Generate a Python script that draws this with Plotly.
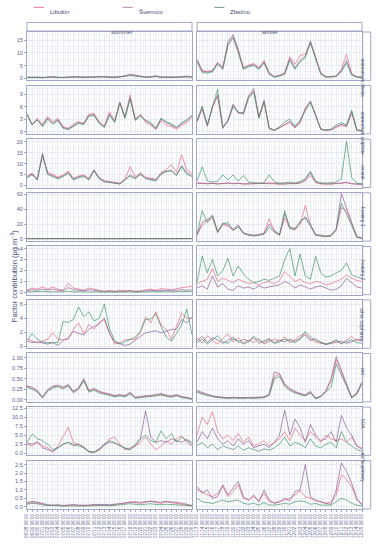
import datetime as dt
import plotly.graph_objects as go
from plotly.subplots import make_subplots

# ---------------- data ----------------
sites = ["Libušín", "Švermov", "Zbečno"]
seasons = ["summer", "winter"]
factors = ["ammonium nitrate", "ammonium sulphate", "crustal", "heating 1", "heating 2",
           "other sulphates", "salt", "SOA", "traffic primary"]

summer_dates = [dt.datetime(2019, 6, 28, 6) + dt.timedelta(days=i) for i in range(33)]
winter_dates = [dt.datetime(2019, 11, 13, 6) + dt.timedelta(days=i) for i in range(33)]

ammonium_nitrate_summer = {
    "Libušín": [0.3,0.4,0.3,0.2,0.4,0.5,0.3,0.2,0.4,0.6,0.5,0.3,0.4,0.5,0.7,0.6,0.4,0.3,0.5,0.8,1.3,1.0,0.6,0.4,0.5,0.8,0.4,0.3,0.3,0.4,0.5,0.7,0.5],
    "Švermov": [0.4,0.5,0.4,0.3,0.5,0.6,0.4,0.3,0.5,0.7,0.6,0.4,0.5,0.6,0.8,0.7,0.5,0.4,0.6,0.9,1.5,1.2,0.7,0.5,0.6,0.9,0.5,0.4,0.4,0.5,0.6,0.8,0.6],
    "Zbečno": [0.2,0.3,0.2,0.1,0.3,0.4,0.2,0.1,0.3,0.4,0.4,0.2,0.3,0.4,0.5,0.5,0.3,0.2,0.4,0.6,1.0,0.8,0.5,0.3,0.4,0.6,0.3,0.2,0.2,0.3,0.4,0.5,0.3],
}
ammonium_nitrate_winter = {
    "Libušín": [7.5,3.2,2.6,3.2,6.2,4.2,13.5,16.5,11.5,4.2,5.2,5.8,4.2,7.0,2.2,0.6,1.2,2.2,8.5,5.5,9.0,9.5,14.0,8.0,2.2,0.6,0.5,0.9,3.5,9.5,1.8,0.6,0.3],
    "Švermov": [7.0,2.8,2.4,2.8,6.0,3.8,14.5,17.2,11.0,3.8,4.8,5.4,3.8,6.5,1.8,0.5,1.0,1.8,7.8,4.0,7.0,8.8,14.8,8.4,1.8,0.5,0.5,0.8,3.0,7.0,1.5,0.5,0.3],
    "Zbečno": [6.5,2.2,2.0,2.5,5.5,3.5,13.0,16.0,10.0,3.5,4.5,5.0,3.5,6.0,1.5,0.4,0.8,1.5,7.0,3.5,6.5,8.0,14.0,7.5,1.5,0.4,0.4,0.6,2.5,6.0,1.2,0.4,0.2],
}
ammonium_sulphate_summer = {
    "Libušín": [4.0,1.8,3.2,1.8,3.6,2.4,3.2,1.2,0.8,1.8,2.4,2.0,4.2,4.4,2.4,1.4,4.8,2.6,7.2,3.6,8.8,3.0,4.2,2.2,1.5,0.5,2.6,1.6,1.2,0.6,1.5,2.2,3.4],
    "Švermov": [4.3,1.6,2.9,1.4,3.3,2.0,2.9,1.0,0.6,1.4,2.2,1.9,3.9,4.1,2.1,1.1,4.2,2.4,7.0,3.4,8.2,2.9,4.0,2.6,1.9,0.7,3.0,2.2,1.6,0.9,1.9,2.6,3.8],
    "Zbečno": [4.1,1.7,2.8,1.2,3.0,1.8,2.6,0.8,0.5,1.2,2.0,1.7,3.7,3.9,2.0,1.0,4.0,2.2,6.8,3.2,7.8,2.7,3.7,2.8,2.2,0.8,3.3,2.4,1.9,1.1,2.2,2.9,4.0],
}
ammonium_sulphate_winter = {
    "Libušín": [2.5,5.4,1.5,5.8,8.6,1.0,2.6,6.4,4.6,4.4,8.4,9.8,3.6,7.6,0.8,0.3,1.0,1.6,2.2,0.9,2.0,5.8,7.2,4.2,0.6,0.3,0.4,1.0,1.5,1.2,4.4,0.4,0.2],
    "Švermov": [2.3,5.8,1.3,6.2,8.8,0.8,2.8,6.6,4.4,4.6,8.6,10.4,3.4,7.4,0.7,0.3,0.9,1.8,2.5,1.0,2.4,5.4,7.4,4.0,0.5,0.3,0.5,1.2,1.8,1.4,4.8,0.3,0.2],
    "Zbečno": [2.6,6.2,1.6,6.0,10.2,1.2,2.4,6.0,4.8,4.2,8.0,9.6,3.2,7.0,0.9,0.4,1.2,2.4,3.0,1.3,2.8,5.0,7.0,3.8,0.7,0.4,0.6,1.6,2.2,1.6,5.2,0.4,0.3],
}
crustal_summer = {
    "Libušín": [4.2,5.6,3.0,13.5,6.0,5.0,3.8,4.8,6.5,3.2,4.3,4.8,3.2,6.8,3.6,2.2,1.8,1.2,1.0,3.0,8.5,3.8,5.8,3.8,3.2,2.8,6.0,7.0,9.5,6.0,14.0,7.0,5.5],
    "Švermov": [3.8,5.2,2.6,14.8,5.4,4.4,3.3,4.3,6.0,2.8,3.9,4.4,2.8,7.2,3.2,1.8,1.4,0.9,0.7,2.6,4.8,3.3,5.2,3.3,2.8,2.3,5.0,6.2,7.0,4.8,9.0,5.8,4.5],
    "Zbečno": [3.5,4.8,2.4,14.0,5.0,4.0,3.0,4.0,5.5,2.5,3.5,4.0,2.5,6.5,3.0,1.6,1.2,0.8,0.6,2.4,4.2,3.0,5.0,3.0,2.5,2.0,5.5,6.5,6.5,4.5,8.5,5.0,4.0],
}
crustal_winter = {
    "Libušín": [1.2,1.0,0.8,1.0,0.7,0.9,1.1,0.8,1.0,0.7,0.6,0.8,1.0,0.9,1.2,0.8,0.6,0.7,0.9,0.8,1.2,2.0,4.5,1.5,0.8,0.6,0.7,0.9,1.0,1.5,0.8,0.6,0.5],
    "Švermov": [1.0,0.8,0.7,0.9,0.6,0.8,1.0,0.7,0.9,0.6,0.5,0.7,0.9,0.8,1.0,0.7,0.5,0.6,0.8,0.7,1.0,2.5,5.8,1.2,0.7,0.5,0.6,0.8,0.9,1.2,0.7,0.5,0.4],
    "Zbečno": [2.0,8.5,2.0,1.5,1.8,4.8,2.5,4.8,2.0,4.5,1.5,1.2,1.0,1.2,4.8,1.5,1.0,1.2,1.5,1.0,1.8,3.0,6.5,2.0,1.2,1.0,1.2,1.5,3.0,20.2,3.5,1.0,0.8],
}
heating_1_summer = {
    "Libušín": [0.3,0.4,0.3,0.2,0.3,0.4,0.3,0.2,0.3,0.4,0.3,0.2,0.3,0.4,0.3,0.2,0.2,0.3,0.2,0.3,0.4,0.3,0.2,0.3,0.4,0.3,0.2,0.3,0.4,0.3,0.4,0.5,0.4],
    "Švermov": [0.4,0.5,0.4,0.3,0.4,0.5,0.4,0.3,0.4,0.5,0.4,0.3,0.4,0.5,0.4,0.3,0.3,0.4,0.3,0.4,0.5,0.4,0.3,0.4,0.5,0.4,0.3,0.4,0.5,0.4,0.5,0.6,0.5],
    "Zbečno": [0.1,0.1,0.1,0.1,0.1,0.2,0.1,0.1,0.1,0.2,0.1,0.1,0.1,0.2,0.1,0.1,0.1,0.1,0.1,0.1,0.2,0.1,0.1,0.1,0.2,0.1,0.1,0.1,0.2,0.1,0.2,0.2,0.1],
}
heating_1_winter = {
    "Libušín": [5,18,24,28,8,19,17,11,17,7,5,4,5,8,27,10,5,28,14,12,19,45,18,5,4,3,4,11,42,38,20,2,1],
    "Švermov": [6,22,26,31,9,21,19,13,19,8,6,5,6,7,20,11,6,34,16,14,22,30,20,6,5,4,5,13,61,42,22,3,1],
    "Zbečno": [5,38,22,32,10,20,22,12,16,8,5,4,5,6,16,9,5,38,14,13,24,28,17,5,4,3,4,14,48,34,18,2,1],
}
heating_2_summer = {
    "Libušín": [0.2,0.4,0.3,0.5,0.3,0.5,0.3,0.2,0.85,0.4,0.3,0.2,0.4,0.3,0.2,0.1,0.2,0.1,0.2,0.15,0.2,0.1,0.15,0.2,0.3,0.2,0.35,0.3,0.25,0.35,0.45,0.5,0.55],
    "Švermov": [0.15,0.25,0.2,0.3,0.2,0.3,0.2,0.15,0.45,0.25,0.2,0.15,0.25,0.2,0.15,0.08,0.12,0.08,0.12,0.1,0.15,0.08,0.1,0.15,0.2,0.15,0.2,0.2,0.15,0.2,0.25,0.2,0.25],
    "Zbečno": [0.05,0.08,0.06,0.1,0.05,0.08,0.06,0.04,0.12,0.06,0.05,0.04,0.06,0.05,0.04,0.03,0.04,0.03,0.04,0.03,0.05,0.03,0.04,0.05,0.06,0.05,0.07,0.06,0.05,0.06,0.08,0.07,0.08],
}
heating_2_winter = {
    "Libušín": [0.8,1.0,1.2,2.2,1.0,1.3,1.1,0.9,1.2,1.0,0.8,0.9,0.7,0.9,1.0,0.8,1.1,1.9,1.4,1.0,1.2,0.9,0.8,1.0,0.9,0.7,0.8,1.0,1.2,1.6,1.3,1.1,1.0],
    "Švermov": [0.4,0.6,0.3,1.5,0.5,0.8,0.3,0.2,0.6,0.4,0.5,0.3,0.6,0.4,0.5,0.6,0.7,1.0,0.8,0.4,0.7,0.5,0.3,0.5,0.6,0.4,0.2,0.3,0.6,1.3,0.9,0.5,0.4],
    "Zbečno": [0.9,3.3,1.8,3.0,1.5,2.0,3.1,1.5,2.4,1.7,1.2,0.9,1.0,1.2,1.1,1.3,1.5,3.0,4.0,1.5,3.5,1.5,1.2,3.3,1.8,1.4,1.5,1.8,2.0,2.7,1.6,1.4,1.3],
}
other_sulphates_summer = {
    "Libušín": [1.0,0.7,0.5,0.7,1.0,1.9,1.0,0.9,1.0,2.4,3.3,1.8,3.1,2.4,3.3,3.8,1.9,0.3,0.5,0.9,1.0,1.0,2.0,4.2,3.3,4.9,3.0,2.4,1.0,2.8,4.7,4.0,4.0],
    "Švermov": [0.7,0.5,0.6,0.4,0.3,0.5,0.1,0.8,1.2,2.1,1.8,1.6,2.4,2.8,3.2,4.0,1.8,0.6,0.3,0.1,0.3,0.9,1.4,1.9,2.1,2.2,1.9,2.2,2.4,2.4,3.8,3.3,4.2],
    "Zbečno": [0.8,1.8,1.0,0.6,0.5,0.5,0.5,3.5,3.4,3.8,5.6,4.2,4.9,3.6,4.0,6.0,2.5,0.8,0.3,0.6,0.9,1.3,2.1,3.8,3.9,4.6,2.8,1.3,0.7,1.9,3.0,5.3,1.6],
}
other_sulphates_winter = {
    "Libušín": [1.2,0.4,1.5,0.8,0.3,1.0,1.8,0.6,1.2,0.4,0.9,0.5,1.1,0.3,0.6,1.0,0.7,1.3,0.5,0.9,1.5,1.8,1.0,0.6,0.4,0.3,0.5,0.8,0.3,0.9,1.4,0.8,1.0],
    "Švermov": [0.8,1.4,0.5,1.2,0.9,0.4,0.8,1.3,0.5,1.0,0.7,1.2,0.4,0.8,1.1,0.5,0.9,0.6,1.0,0.7,1.2,1.6,0.8,1.1,0.5,0.2,0.4,0.6,0.7,0.4,0.6,1.0,0.7],
    "Zbečno": [0.5,1.0,0.3,0.9,1.5,0.6,0.4,1.0,0.8,0.3,0.6,1.4,0.8,0.5,0.9,0.4,0.6,1.0,0.7,0.5,1.0,2.1,1.3,0.8,0.6,0.3,0.5,0.9,0.4,0.6,0.9,0.5,0.4],
}
salt_summer = {
    "Libušín": [0.31,0.27,0.21,0.05,0.21,0.31,0.32,0.27,0.34,0.19,0.26,0.47,0.21,0.24,0.19,0.15,0.13,0.08,0.11,0.08,0.15,0.05,0.06,0.08,0.08,0.11,0.12,0.1,0.07,0.11,0.06,0.05,0.02],
    "Švermov": [0.33,0.3,0.22,0.06,0.24,0.32,0.35,0.3,0.36,0.2,0.29,0.5,0.22,0.27,0.2,0.17,0.14,0.1,0.12,0.1,0.18,0.06,0.08,0.09,0.1,0.12,0.15,0.11,0.09,0.12,0.08,0.05,0.03],
    "Zbečno": [0.3,0.25,0.18,0.04,0.2,0.28,0.31,0.26,0.33,0.16,0.25,0.45,0.18,0.23,0.16,0.13,0.1,0.07,0.09,0.07,0.14,0.03,0.05,0.06,0.07,0.09,0.11,0.08,0.06,0.09,0.05,0.03,0.01],
}
salt_winter = {
    "Libušín": [0.2,0.15,0.12,0.08,0.06,0.05,0.04,0.05,0.04,0.04,0.05,0.04,0.05,0.06,0.12,0.55,0.6,0.35,0.25,0.18,0.14,0.1,0.18,0.03,0.08,0.2,0.45,0.95,0.65,0.35,0.05,0.15,0.4],
    "Švermov": [0.22,0.17,0.13,0.09,0.07,0.06,0.05,0.06,0.05,0.05,0.06,0.05,0.06,0.07,0.14,0.66,0.62,0.38,0.27,0.2,0.15,0.12,0.2,0.04,0.09,0.22,0.5,1.02,0.7,0.38,0.06,0.17,0.42],
    "Zbečno": [0.18,0.13,0.1,0.07,0.05,0.04,0.03,0.04,0.03,0.03,0.04,0.03,0.04,0.05,0.1,0.5,0.55,0.32,0.22,0.16,0.12,0.09,0.16,0.02,0.07,0.18,0.3,0.85,0.6,0.32,0.04,0.13,0.38],
}
soa_summer = {
    "Libušín": [2.5,2.0,3.2,2.0,1.5,0.3,2.0,4.5,7.2,3.0,2.5,1.5,0.5,0.2,0.8,2.0,4.0,4.5,2.5,1.0,1.5,2.0,3.0,4.5,2.5,1.0,2.0,3.5,2.5,4.0,4.8,3.0,2.0],
    "Švermov": [2.8,2.5,3.0,1.5,1.0,0.5,1.5,2.5,3.0,2.0,2.5,1.8,0.5,0.3,1.2,2.5,3.0,2.8,2.2,1.2,1.0,2.0,4.0,11.8,4.5,3.0,3.5,3.0,4.0,3.5,3.0,3.8,3.0],
    "Zbečno": [3.0,5.3,4.0,3.5,2.5,1.0,1.5,2.5,3.0,2.5,2.2,1.5,0.3,0.2,1.0,2.5,3.5,3.0,2.0,1.5,1.0,2.5,4.0,5.0,3.5,3.0,6.2,4.0,5.5,3.0,4.5,3.5,2.5],
}
soa_winter = {
    "Libušín": [5,10,8,11.5,6,4,5,3.5,5.5,3,4.5,2,2.5,3.5,2,3,4,6,3.5,7,5,3.5,6,4.5,3,5,4,3.5,4,3,4.5,2,1.5],
    "Švermov": [3,6,4,7,4,2.5,3.5,2,4,2.5,3.5,1.5,2,2.5,1.5,3,5,12,5,9.5,7,3,8,5,3.5,4,6,3,10.5,7,5,2,1],
    "Zbečno": [2,3,1.5,2.5,1,2,1.5,1,2,0.8,1.5,1,0.5,1.2,0.8,1.5,2.5,4.5,2,3,2.5,1.5,4,2,1.5,2.5,3,1.5,6,3,2,1,0.5],
}
traffic_primary_summer = {
    "Libušín": [0.2,0.25,0.22,0.15,0.1,0.08,0.1,0.05,0.08,0.1,0.06,0.05,0.08,0.1,0.12,0.1,0.08,0.12,0.15,0.2,0.3,0.25,0.2,0.28,0.35,0.25,0.2,0.3,0.25,0.2,0.18,0.12,0.05],
    "Švermov": [0.25,0.32,0.28,0.18,0.12,0.1,0.12,0.08,0.1,0.14,0.1,0.08,0.1,0.14,0.16,0.14,0.12,0.15,0.2,0.25,0.28,0.3,0.26,0.3,0.32,0.3,0.28,0.32,0.3,0.26,0.22,0.15,0.08],
    "Zbečno": [0.15,0.2,0.18,0.1,0.08,0.05,0.06,0.04,0.05,0.08,0.05,0.04,0.06,0.08,0.1,0.08,0.06,0.08,0.1,0.15,0.18,0.15,0.12,0.15,0.18,0.14,0.12,0.15,0.14,0.12,0.1,0.08,0.04],
}
traffic_primary_winter = {
    "Libušín": [1.0,0.9,0.7,0.6,0.8,1.2,0.6,0.9,1.3,0.5,0.4,0.6,0.35,0.8,0.3,0.25,0.3,0.4,0.5,0.7,0.95,0.6,0.5,0.35,0.3,0.2,0.3,0.7,1.9,1.6,1.2,0.4,0.15],
    "Švermov": [1.2,0.8,1.0,0.5,0.6,1.3,0.7,1.1,1.5,0.6,0.4,0.7,0.3,1.0,0.4,0.2,0.3,0.5,0.35,0.9,1.0,2.5,0.6,0.4,0.3,0.2,0.15,1.0,2.6,2.1,1.4,0.5,0.1],
    "Zbečno": [0.5,0.3,0.25,0.2,0.3,0.4,0.3,0.35,0.4,0.2,0.15,0.2,0.1,0.25,0.1,0.1,0.15,0.2,0.15,0.3,0.35,0.3,0.15,0.2,0.1,0.1,0.1,0.3,0.5,0.4,0.2,0.1,0.05],
}

series = {
    "ammonium nitrate": (ammonium_nitrate_summer, ammonium_nitrate_winter),
    "ammonium sulphate": (ammonium_sulphate_summer, ammonium_sulphate_winter),
    "crustal": (crustal_summer, crustal_winter),
    "heating 1": (heating_1_summer, heating_1_winter),
    "heating 2": (heating_2_summer, heating_2_winter),
    "other sulphates": (other_sulphates_summer, other_sulphates_winter),
    "salt": (salt_summer, salt_winter),
    "SOA": (soa_summer, soa_winter),
    "traffic primary": (traffic_primary_summer, traffic_primary_winter),
}

y_ranges = [[-0.87, 18.3], [-0.55, 11.1], [-1.0, 21.2], [-3.0, 62.2], [-0.2, 4.2],
            [-0.3, 6.6], [-0.05, 1.1], [-0.62, 12.8], [-0.13, 2.73]]
y_ticks = [[0, 5, 10, 15], [0, 3, 6, 9], [0, 5, 10, 15, 20], [0, 20, 40, 60], [0, 1, 2, 3, 4],
           [0, 2, 4, 6], [0, 0.25, 0.5, 0.75, 1.0], [0, 2.5, 5, 7.5, 10, 12.5], [0, 0.5, 1, 1.5, 2, 2.5]]
y_ticktext = [None, None, None, None, None, None,
              ["0.00", "0.25", "0.50", "0.75", "1.00"],
              ["0.0", "2.5", "5.0", "7.5", "10.0", "12.5"],
              ["0.0", "0.5", "1.0", "1.5", "2.0", "2.5"]]

colors = {"Libušín": "rgba(232,100,122,0.85)", "Švermov": "rgba(135,88,145,0.85)",
          "Zbečno": "rgba(58,145,96,0.85)"}
legend_colors = {"Libušín": "#eb7d8e", "Švermov": "#b088a8", "Zbečno": "#6f9c80"}

# ---------------- figure ----------------
FONT = "Liberation Sans, Arial, sans-serif"
BORDER = "#a2a6c8"
GRID = "#e9ebf3"
MINOR = "#f3f4f8"
TICKC = "#5d6394"

fig = make_subplots(rows=9, cols=2, shared_xaxes=True, shared_yaxes=True,
                    horizontal_spacing=0.015, vertical_spacing=0.011)

for r, fac in enumerate(factors, start=1):
    for c, season in enumerate(seasons, start=1):
        dates = summer_dates if season == "summer" else winter_dates
        dd = series[fac][c - 1]
        for s in sites:
            fig.add_trace(go.Scatter(x=dates, y=dd[s], mode="lines", name=s,
                                     line=dict(color=colors[s], width=0.8),
                                     showlegend=False, hoverinfo="skip"),
                          row=r, col=c)

for c, season in enumerate(seasons, start=1):
    dates = summer_dates if season == "summer" else winter_dates
    labels = [d.strftime("%m/%d %H:%M") for d in dates]
    minor_vals = [d + dt.timedelta(hours=12) for d in dates[:-1]]
    for r in range(1, 10):
        fig.update_xaxes(row=r, col=c, range=[dates[0], dates[-1]],
                         tickmode="array", tickvals=dates, ticktext=labels,
                         tickangle=-90, tickfont=dict(size=4.6, color=TICKC, family=FONT),
                         showgrid=True, gridcolor=GRID, gridwidth=0.6,
                         minor=dict(showgrid=True, gridcolor=MINOR, gridwidth=0.5,
                                    tickmode="array", tickvals=minor_vals),
                         showline=True, mirror=True, linecolor=BORDER, linewidth=1,
                         ticks="outside" if r == 9 else "", ticklen=2,
                         tickcolor=BORDER, tickwidth=0.6, zeroline=False)

for r in range(1, 10):
    yt = y_ticks[r - 1]
    mids = [(a + b) / 2 for a, b in zip(yt[:-1], yt[1:])] + [yt[-1] + (yt[1] - yt[0]) / 2]
    for c in (1, 2):
        kw = dict(range=y_ranges[r - 1], tickmode="array", tickvals=yt,
                  tickfont=dict(size=5.6, color=TICKC, family=FONT),
                  showgrid=True, gridcolor=GRID, gridwidth=0.6,
                  minor=dict(showgrid=True, gridcolor=MINOR, gridwidth=0.5,
                             tickmode="array", tickvals=mids),
                  showline=True, mirror=True, linecolor=BORDER, linewidth=1,
                  ticks="outside" if c == 1 else "", ticklen=2, tickcolor=BORDER,
                  tickwidth=0.6, zeroline=False)
        if y_ticktext[r - 1] is not None:
            kw["ticktext"] = y_ticktext[r - 1]
        fig.update_yaxes(row=r, col=c, **kw)

shapes = []
annotations = []
# top strips
for c, season in enumerate(seasons, start=1):
    xd = fig.get_subplot(1, c).xaxis.domain
    shapes.append(dict(type="rect", xref="paper", yref="paper", x0=xd[0], x1=xd[1],
                       y0=1.002, y1=1.020, fillcolor="white", layer="below",
                       line=dict(color=BORDER, width=1)))
    annotations.append(dict(xref="paper", yref="paper", x=(xd[0] + xd[1]) / 2, y=1.011,
                            text=season, showarrow=False,
                            font=dict(size=6, color="#555a7a", family=FONT)))
# right strips
for r, fac in enumerate(factors, start=1):
    yd = fig.get_subplot(r, 2).yaxis.domain
    shapes.append(dict(type="rect", xref="paper", yref="paper", x0=1.002, x1=1.026,
                       y0=yd[0], y1=yd[1], fillcolor="white", layer="below",
                       line=dict(color=BORDER, width=1)))
    annotations.append(dict(xref="paper", yref="paper", x=1.014, y=(yd[0] + yd[1]) / 2,
                            text=fac, showarrow=False, textangle=90,
                            font=dict(size=4.8, color="#555a7a", family=FONT)))

# y title
annotations.append(dict(xref="paper", yref="paper", x=-0.06, y=0.49,
                        text="Factor contribution (μg.m<sup>−3</sup>)", showarrow=False,
                        textangle=-90, font=dict(size=7.5, color="#4a5080", family=FONT)))

# legend (manual)
W, H = 376, 550
ml, mr, mt, mb = 27, 13, 32, 34
pw, ph = W - ml - mr, H - mt - mb
def px_x(x):
    return (x - ml) / pw
def px_y(y):
    return (H - mb - y) / ph
leg_pos = [(34, "Libušín"), (123, "Švermov"), (215, "Zbečno")]
for x0, s in leg_pos:
    shapes.append(dict(type="line", xref="paper", yref="paper",
                       x0=px_x(x0), x1=px_x(x0 + 10), y0=px_y(7), y1=px_y(7),
                       line=dict(color=legend_colors[s], width=1)))
    annotations.append(dict(xref="paper", yref="paper", x=px_x(x0 + 14), y=px_y(7),
                            xanchor="left", text=s, showarrow=False,
                            font=dict(size=6, color="#444a70", family=FONT)))

fig.update_layout(width=W, height=H, margin=dict(l=ml, r=mr, t=mt, b=mb),
                  paper_bgcolor="white", plot_bgcolor="white",
                  showlegend=False, shapes=shapes, annotations=annotations,
                  font=dict(family=FONT))

fig.write_html("out.html", config={"displayModeBar": False},
               post_script="document.body.style.margin='0px';")
